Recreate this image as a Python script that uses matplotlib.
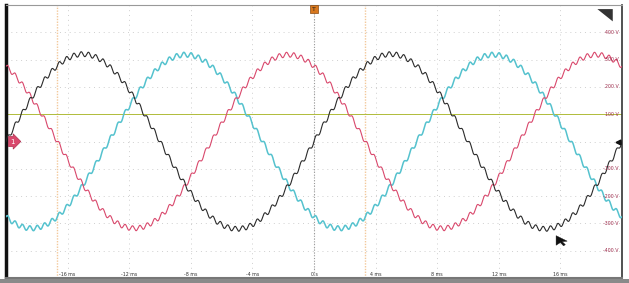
import numpy as np
import matplotlib
matplotlib.use('Agg')
import matplotlib.pyplot as plt
from matplotlib.patches import Polygon, Rectangle

# channel data
channels = ['black', 'red', 'cyan']
colors = ['#2b2b2b', '#d9486c', '#55c2ce']
amplitudes = [320, 318, 318]          # V peak
phases_deg = [0, 120, -120]           # phase at t = 0
line_freq = 50                        # Hz
ripple_amp = [9, 9, 9]                # V
ripple_freq = 2100                    # Hz

x_ticks = [-16, -12, -8, -4, 0, 4, 8, 12, 16]
x_labels = ['-16 ms', '-12 ms', '-8 ms', '-4 ms', '0 s', '4 ms', '8 ms', '12 ms', '16 ms']
y_ticks = [400, 300, 200, 100, -100, -200, -300, -400]
y_labels = ['400 V', '300 V', '200 V', '100 V', '-100 V', '-200 V', '-300 V', '-400 V']
trigger_level = 100     # V
cursors = [-16.67, 3.33]  # ms

t = np.linspace(-20, 20, 8000)  # ms

fig = plt.figure(figsize=(6.29, 2.83), dpi=100)
fig.patch.set_facecolor('white')
ax = fig.add_axes([6/629, 5/283, 616/629, 273/283])
ax.set_xlim(-20, 20)
ax.set_ylim(-500, 500)

# grid
for x in range(-20, 21, 4):
    ax.axvline(x, color='#cfcfcf', lw=0.7, ls=(0, (1, 4)), zorder=0)
for y in range(-500, 501, 100):
    ax.axhline(y, color='#cfcfcf', lw=0.7, ls=(0, (1, 4)), zorder=0)
ax.axvline(0, color='#9a9a9a', lw=0.8, ls=(0, (1, 1.5)), zorder=0)
for c in cursors:
    ax.axvline(c, color='#f3c89a', lw=1.0, ls=(0, (1, 1)), zorder=1)
ax.axhline(trigger_level, color='#b0bc3a', lw=0.7, zorder=1)

order = [2, 1, 0]
for i in order:
    ph = np.deg2rad(phases_deg[i])
    v = amplitudes[i] * np.sin(2 * np.pi * line_freq * t / 1000 + ph)
    v = v + ripple_amp[i] * np.sin(2 * np.pi * ripple_freq * t / 1000 + ph * 3)
    lw = 1.1 if channels[i] == 'cyan' else 0.8
    ax.plot(t, v, color=colors[i], lw=lw, zorder=3)

for xt, lab in zip(x_ticks, x_labels):
    ax.text(xt, -487, lab, fontsize=3.4, color='#333333', ha='center', va='center')
for yt, lab in zip(y_ticks, y_labels):
    ax.text(19.8, yt, lab, fontsize=3.4, color='#9c2a4a', ha='right', va='center')

ax.set_xticks([])
ax.set_yticks([])
ax.spines['top'].set_color('#999999')
ax.spines['top'].set_linewidth(0.8)
ax.spines['left'].set_color('#111111')
ax.spines['left'].set_linewidth(2.5)
ax.spines['right'].set_color('#333333')
ax.spines['right'].set_linewidth(1.2)
ax.spines['bottom'].set_color('#777777')
ax.spines['bottom'].set_linewidth(1.5)

# channel 1 marker at 0 V
ax.text(-19.7, 0, '1', fontsize=5, color='white', ha='left', va='center',
        bbox=dict(boxstyle='rarrow,pad=0.3', fc='#d9486c', ec='#b0304f', lw=0.5), zorder=5)
# trigger position marker
ax.text(0, 485, 'T', fontsize=4.5, color='#222222', ha='center', va='center',
        bbox=dict(boxstyle='square,pad=0.3', fc='#d8781e', ec='#8a4a10', lw=0.5), zorder=5)
# right-hand reference arrow
ax.plot([19.75], [0], marker='<', color='#111111', ms=3.5, zorder=5, clip_on=False)
# corner triangle
ax.add_patch(Polygon([[0.985, 0.985], [0.96, 0.985], [0.985, 0.94]], closed=True,
                     transform=ax.transAxes, fc='#333333', ec='none', zorder=5))
# mouse pointer
ax.add_patch(Polygon([[0.893, 0.155], [0.893, 0.12], [0.9, 0.13], [0.905, 0.118],
                      [0.908, 0.122], [0.903, 0.133], [0.911, 0.135]], closed=True,
                     transform=ax.transAxes, fc='#111111', ec='#111111', lw=0.3, zorder=6))

# bottom grey strip of the screenshot
fig.patches.append(Rectangle((0, 0), 1, 4/283, transform=fig.transFigure,
                             fc='#8a8a8a', ec='none'))

fig.savefig('out.png', dpi=100)
